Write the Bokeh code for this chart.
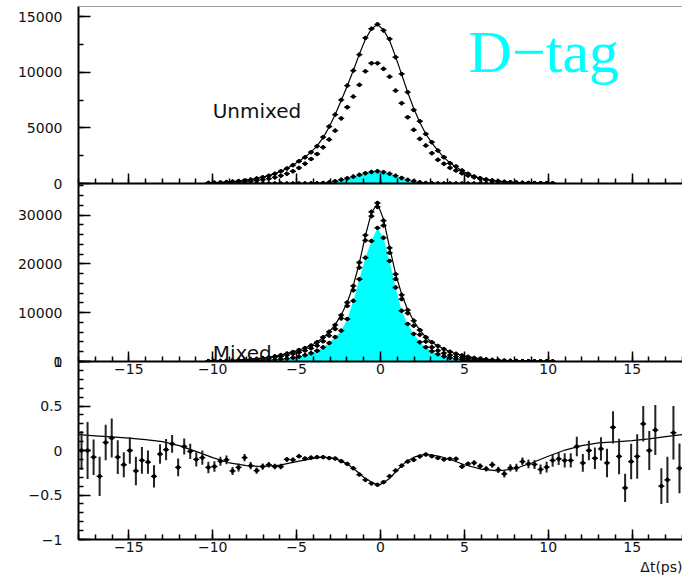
import numpy as np
from bokeh.plotting import figure
from bokeh.models import Range1d, SingleIntervalTicker, CustomJSTickFormatter, Span, Label, Title
from bokeh.layouts import column
from bokeh.embed import file_html
from bokeh.resources import INLINE

# ---------------- data ----------------
BIN_WIDTH = 0.36
N_BINS = 100
T_MIN = -18.0
dt_all = [round(T_MIN + BIN_WIDTH * (k + 0.5), 2) for k in range(N_BINS)]
dt_core = dt_all[21:79]          # -10.26 ... 10.26

# Unmixed (top panel)
unmixed_total = [55, 75, 100, 130, 170, 220, 280, 350, 450, 560,
                 700, 880, 1100, 1350, 1650, 2000, 2350, 2810, 3350, 4160,
                 5120, 6190, 7510, 8800, 10140, 11580, 13080, 13900, 14300,
                 13750, 12990, 11340, 9840, 8200, 6610, 5590, 4450, 3710, 2960,
                 2360, 1820, 1530, 1170, 870, 630, 480, 360, 270, 200,
                 150, 110, 80, 60, 45, 35, 25, 20, 15]
unmixed_mid = [35, 45, 60, 80, 100, 130, 165, 210, 270, 340,
               430, 550, 700, 880, 1100, 1400, 1780, 2200, 2650, 3250,
               3950, 4750, 5850, 6850, 7810, 8860, 10080, 10800, 10800,
               10300, 9600, 8350, 7210, 5950, 4820, 4010, 3410, 2720, 2130,
               1770, 1410, 1170, 920, 720, 560, 430, 330, 250, 190,
               140, 105, 80, 60, 45, 35, 25, 18, 13]
unmixed_bkg = [0, 0, 0, 0, 0, 0, 0, 0, 0, 0,
               1, 2, 3, 4, 5, 6, 8, 12, 25, 50,
               100, 200, 340, 470, 620, 780, 920, 1040, 1100,
               1020, 880, 700, 500, 330, 210, 110, 50, 20, 8,
               4, 2, 1, 0, 0, 0, 0, 0, 0, 0,
               0, 0, 0, 0, 0, 0, 0, 0, 0]
unmixed_fit = [55, 75, 100, 130, 170, 220, 280, 355, 450, 565,
               710, 890, 1100, 1360, 1660, 2000, 2380, 2820, 3380, 4120,
               5080, 6200, 7450, 8780, 10150, 11620, 12950, 13900, 14280,
               13800, 12850, 11400, 9800, 8200, 6750, 5500, 4450, 3650, 2950,
               2350, 1850, 1480, 1150, 880, 650, 490, 365, 270, 200,
               150, 110, 80, 60, 45, 35, 25, 20, 15]

# Mixed (middle panel)
mixed_total = [70, 90, 120, 160, 210, 270, 340, 430, 540, 680,
               850, 1060, 1320, 1620, 1950, 2350, 2750, 3270, 3950, 4970,
               6100, 7500, 9500, 12100, 15500, 20300, 25900, 30700, 32500,
               28900, 23300, 17900, 13670, 10550, 8370, 6460, 4970, 3950, 3200,
               2550, 2000, 1580, 1240, 960, 740, 570, 440, 340, 260,
               200, 150, 110, 80, 60, 45, 35, 25, 18]
mixed_mid = [55, 70, 95, 125, 165, 210, 270, 340, 430, 540,
             680, 850, 1060, 1300, 1580, 1900, 2250, 2700, 3270, 4150,
             5310, 6670, 8840, 11400, 14600, 19250, 24830, 29800, 31700,
             27890, 22300, 16900, 12790, 9900, 7350, 5510, 4100, 2920, 2240,
             1700, 1300, 1000, 780, 600, 460, 350, 270, 200, 150,
             110, 85, 65, 50, 38, 28, 20, 15, 10]
mixed_bkg = [13, 18, 25, 33, 45, 60, 80, 110, 150, 200,
             270, 350, 460, 600, 780, 1000, 1300, 1700, 2200, 2900,
             3800, 5000, 6330, 8710, 12450, 16870, 21290, 24700, 27400,
             25370, 20610, 15170, 10410, 7690, 5650, 3950, 2920, 2100, 1500,
             1050, 750, 530, 370, 260, 180, 125, 90, 60, 40,
             28, 20, 14, 10, 7, 5, 3, 2, 1]
mixed_fit = [70, 92, 120, 160, 210, 270, 345, 430, 545, 680,
             850, 1060, 1310, 1610, 1960, 2350, 2780, 3300, 4000, 4900,
             6050, 7550, 9550, 12150, 15600, 20200, 25800, 30500, 32400,
             29200, 23400, 18000, 13800, 10600, 8300, 6450, 5000, 3950, 3180,
             2550, 2000, 1580, 1240, 960, 740, 570, 440, 340, 260,
             200, 150, 110, 80, 60, 45, 35, 25, 18]

# Asymmetry (bottom panel)
asym = [0.0, 0.0, -0.075, -0.29, 0.09, 0.14, -0.075, -0.16, 0.0, -0.23,
        -0.11, -0.13, -0.29, -0.04, 0.01, 0.075, -0.19, 0.045, -0.01, -0.10,
        -0.08, -0.19, -0.18, -0.12, -0.105, -0.23, -0.19, -0.08, -0.17, -0.225,
        -0.18, -0.16, -0.18, -0.18, -0.10, -0.105, -0.065, -0.09, -0.08, -0.075,
        -0.075, -0.085, -0.09, -0.12, -0.15, -0.20, -0.27, -0.33, -0.37, -0.385,
        -0.356, -0.29, -0.225, -0.17, -0.124, -0.105, -0.067, -0.045, -0.064, -0.083,
        -0.10, -0.094, -0.094, -0.18, -0.15, -0.139, -0.176, -0.206, -0.16, -0.217,
        -0.262, -0.195, -0.195, -0.124, -0.15, -0.157, -0.213, -0.187, -0.112, -0.094,
        -0.112, -0.112, 0.045, -0.14, 0.0, -0.087, 0.019, -0.14, 0.26, -0.067,
        -0.42, -0.124, -0.067, 0.30, 0.0, 0.23, -0.40, -0.33, 0.2, -0.2]
asym_err = [0.22, 0.32, 0.2, 0.22, 0.2, 0.22, 0.19, 0.14, 0.15, 0.16,
            0.15, 0.13, 0.125, 0.11, 0.12, 0.10, 0.10, 0.09, 0.085, 0.08,
            0.08, 0.065, 0.06, 0.05, 0.05, 0.045, 0.045, 0.04, 0.04, 0.035,
            0.035, 0.03, 0.03, 0.03, 0.025, 0.025, 0.02, 0.02, 0.02, 0.02,
            0.02, 0.02, 0.02, 0.02, 0.02, 0.02, 0.02, 0.02, 0.02, 0.02,
            0.02, 0.02, 0.02, 0.02, 0.02, 0.02, 0.02, 0.02, 0.02, 0.02,
            0.02, 0.02, 0.025, 0.025, 0.025, 0.03, 0.03, 0.03, 0.035, 0.035,
            0.04, 0.04, 0.045, 0.045, 0.05, 0.05, 0.055, 0.06, 0.07, 0.07,
            0.08, 0.08, 0.11, 0.10, 0.11, 0.12, 0.13, 0.16, 0.18, 0.2,
            0.16, 0.2, 0.25, 0.2, 0.22, 0.28, 0.2, 0.26, 0.3, 0.28]
asym_fit_t = [-18, -17, -16, -15, -14, -13, -12, -11, -10, -9, -8, -7, -6, -5, -4,
              -3.5, -3, -2.5, -2, -1.5, -1, -0.5, -0.18, 0,
              0.5, 1, 1.5, 2, 2.5, 3, 3.5, 4,
              5, 6, 7, 8, 9, 10, 11, 12, 13, 14, 15, 16, 17, 18]
asym_fit = [0.178, 0.165, 0.152, 0.138, 0.122, 0.10, 0.055, -0.01, -0.08, -0.14, -0.17, -0.18, -0.165, -0.125, -0.088,
            -0.076, -0.08, -0.105, -0.15, -0.22, -0.30, -0.36, -0.385, -0.38,
            -0.32, -0.22, -0.13, -0.075, -0.05, -0.048, -0.065, -0.09,
            -0.16, -0.21, -0.23, -0.205, -0.14, -0.065, 0.005, 0.055, 0.085, 0.098, 0.11, 0.13, 0.155, 0.18]

X_RANGE = (-18, 18)
P1_Y = (0, 15900)
P2_Y = (0, 36500)
P3_Y = (-1, 1)

# ---------------- styling helpers ----------------
FONT = "DejaVu Sans"
CYAN = "#00ffff"
FMT_CODE = "return (tick < 0 ? '\u2212' : '') + String(Math.abs(Math.round(tick*1000)/1000));"


def make_fig(yr, frame_h, top, bottom, margin_top, y_interval, y_minor):
    p = figure(frame_width=604, frame_height=frame_h,
               x_range=Range1d(*X_RANGE), y_range=Range1d(*yr),
               min_border_left=78, min_border_right=0,
               min_border_top=top, min_border_bottom=bottom,
               margin=(margin_top, 0, 0, 0),
               background_fill_color=None, border_fill_color=None,
               output_backend="svg", toolbar_location=None)
    p.outline_line_color = None
    p.grid.visible = False
    p.xaxis.ticker = SingleIntervalTicker(interval=5, num_minor_ticks=5)
    p.yaxis.ticker = SingleIntervalTicker(interval=y_interval, num_minor_ticks=y_minor)
    for ax in (p.xaxis[0], p.yaxis[0]):
        ax.formatter = CustomJSTickFormatter(code=FMT_CODE)
        ax.axis_line_width = 2
        ax.axis_line_color = "black"
        ax.major_tick_out = 0
        ax.minor_tick_out = 0
        ax.minor_tick_in = 5
        ax.major_tick_line_width = 1.5
        ax.minor_tick_line_width = 1.5
        ax.major_tick_line_color = "black"
        ax.minor_tick_line_color = "black"
        ax.major_label_text_font = FONT
        ax.major_label_text_font_size = "14px"
        ax.major_label_text_color = "#111111"
    p.xaxis.major_tick_in = 10
    p.yaxis.major_tick_in = 12
    p.yaxis.major_label_standoff = 16
    p.xaxis.major_label_standoff = 2
    return p


def draw_points(p, x, y, err=None):
    x = np.asarray(x, dtype=float)
    y = np.asarray(y, dtype=float)
    p.segment(x0=x - BIN_WIDTH / 2, y0=y, x1=x + BIN_WIDTH / 2, y1=y,
              line_color="black", line_width=1.3)
    if err is not None:
        e = np.asarray(err, dtype=float)
        p.segment(x0=x, y0=y - e, x1=x, y1=y + e, line_color="#222222", line_width=2)
    else:
        p.scatter(x, y, marker="dash", angle=np.pi / 2, size=4, line_color="black", line_width=1.2)
    p.scatter(x, y, marker="circle", size=3.5, color="black")


# ---------------- panel 1 : Unmixed ----------------
p1 = make_fig(P1_Y, 177, 6, 10, 0, 5000, 2)
p1.xaxis.formatter = CustomJSTickFormatter(code="return '';")
p1.xaxis.major_label_standoff = 0
p1.add_layout(Span(location=P1_Y[1], dimension="width", line_color="#444444", line_width=1))
p1.varea(x=dt_core, y1=0, y2=unmixed_bkg, fill_color=CYAN)
p1.line(dt_core, unmixed_fit, line_color="black", line_width=1.2)
draw_points(p1, dt_core, unmixed_total)
draw_points(p1, dt_core, unmixed_mid)
draw_points(p1, dt_core, unmixed_bkg)
p1.add_layout(Label(x=-10, y=6470, text="Unmixed", text_font=FONT, text_font_size="20px",
                    text_color="#111111", text_baseline="middle"))
p1.add_layout(Label(x=5.25, y=11800, text="D\u2212tag", text_font="Liberation Serif",
                    text_font_size="60px", text_color=CYAN, text_baseline="middle"))

# ---------------- panel 2 : Mixed ----------------
p2 = make_fig(P2_Y, 178, 0, 24, -10, 10000, 5)
p2.varea(x=dt_core, y1=0, y2=mixed_bkg, fill_color=CYAN)
p2.line(dt_core, mixed_fit, line_color="black", line_width=1.2)
draw_points(p2, dt_core, mixed_total)
draw_points(p2, dt_core, mixed_mid)
draw_points(p2, dt_core, mixed_bkg)
p2.add_layout(Label(x=-10, y=1745, text="Mixed", text_font=FONT, text_font_size="20px",
                    text_color="#111111", text_baseline="middle"))

# ---------------- panel 3 : asymmetry ----------------
p3 = make_fig(P3_Y, 178, 8, 42, -32, 0.5, 5)
p3.line(asym_fit_t, asym_fit, line_color="black", line_width=1.2)
draw_points(p3, dt_all, asym, asym_err)
p3.add_layout(Title(text="\u0394t(ps)", align="right", text_font=FONT, text_font_size="14px",
                    text_font_style="normal", text_color="#111111", standoff=4), "below")

layout = column(p1, p2, p3, spacing=0)
open("out.html", "w").write(file_html(layout, INLINE))
